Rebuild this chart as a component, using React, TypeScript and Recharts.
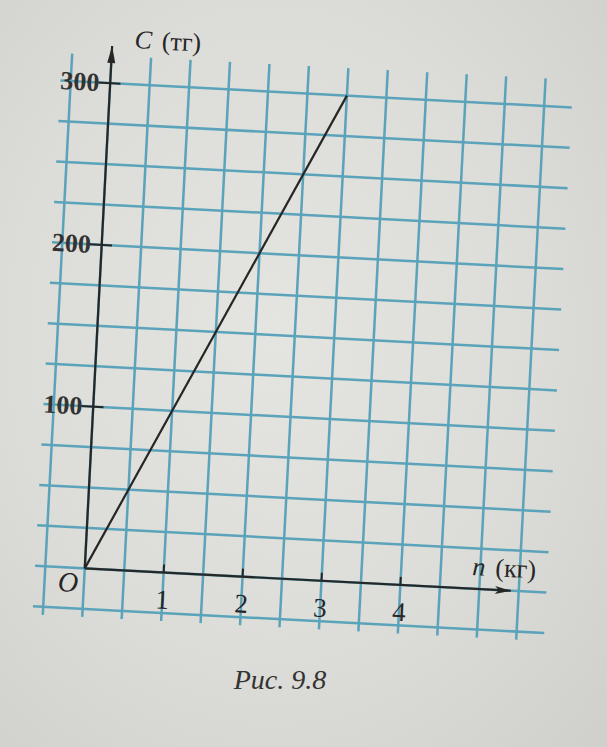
import { LineChart, Line, XAxis, YAxis, ReferenceLine, ReferenceDot } from 'recharts';

// graph of C (тг) against n (кг): straight line through the origin
const nValues = [0, 3];
const cValues = [0, 300];

// squared paper lines, every half kg and every 25 тг
const gridN = [-0.5, 0, 0.5, 1, 1.5, 2, 2.5, 3, 3.5, 4, 4.5, 5, 5.5];
const gridC = [-25, 0, 25, 50, 75, 100, 125, 150, 175, 200, 225, 250, 275, 300];

// labelled ticks
const nTicks = [1, 2, 3, 4];
const cTicks = [100, 200, 300];

const data = nValues.map((n, i) => ({ n, c: cValues[i] }));

const INK = '#262626';
const GRID = '#5aa3ba';
const FONT = '"Liberation Serif", "Times New Roman", serif';

function YAxisArrow(p: any) {
  const { x1, y1, x2, y2 } = p;
  return (
    <g>
      <line x1={x1} y1={y1} x2={x2} y2={y2} stroke={INK} strokeWidth={2.2} />
      <path d={`M${x2},${y2} L${x2 - 4},${y2 + 17} L${x2 + 4},${y2 + 17} Z`} fill={INK} />
    </g>
  );
}

function XAxisArrow(p: any) {
  const { x1, y1, x2, y2 } = p;
  return (
    <g>
      <line x1={x1} y1={y1} x2={x2} y2={y2} stroke={INK} strokeWidth={2.2} />
      <path d={`M${x2},${y2} L${x2 - 16},${y2 - 4} L${x2 - 12},${y2} L${x2 - 16},${y2 + 4} Z`} fill={INK} />
    </g>
  );
}

function CTickMark(p: any) {
  const { x1, y1, x2, y2, text } = p;
  return (
    <g>
      <line x1={x1} y1={y1} x2={x2} y2={y2} stroke={INK} strokeWidth={2} />
      <text
        x={x1 + 1}
        y={y1}
        textAnchor="end"
        dominantBaseline="central"
        fontFamily={FONT}
        fontWeight="bold"
        fontSize={26}
        fill="#333"
      >
        {text}
      </text>
    </g>
  );
}

function NTickMark(p: any) {
  const { x1, y1, x2, y2, text } = p;
  return (
    <g>
      <line x1={x1} y1={y1} x2={x2} y2={y2} stroke={INK} strokeWidth={2} />
      <text x={x1} y={y1 + 36} textAnchor="middle" fontFamily={FONT} fontSize={27} fill={INK}>
        {text}
      </text>
    </g>
  );
}

function AxisName(p: any) {
  const { cx, cy, name, unit } = p;
  return (
    <text x={cx} y={cy} dominantBaseline="central" fontFamily={FONT} fontSize={26} fill={INK}>
      <tspan fontStyle="italic">{name}</tspan>
      <tspan dx={10}>{unit}</tspan>
    </text>
  );
}

function OriginMark(p: any) {
  const { cx, cy } = p;
  return (
    <text x={cx} y={cy} textAnchor="middle" dominantBaseline="central" fontFamily={FONT} fontStyle="italic" fontSize={28} fill={INK}>
      O
    </text>
  );
}

export default function App() {
  return (
    <div
      style={{
        position: 'absolute',
        left: 0,
        top: 0,
        width: 607,
        height: 747,
        overflow: 'hidden',
        background: 'radial-gradient(ellipse at 45% 45%, #e4e4e0 0%, #dcdcd8 55%, #cfcfcb 100%)',
      }}
    >
      {/* the photo is turned a little, so the paper is turned round the origin */}
      <div style={{ position: 'absolute', left: 0, top: 0, transform: 'rotate(3deg)', transformOrigin: '85px 568px' }}>
        <LineChart width={607} height={747} data={data} margin={{ top: 55, right: 60, bottom: 130, left: 35 }}>
          <XAxis dataKey="n" type="number" domain={[-0.63, 5.85]} allowDataOverflow hide />
          <YAxis dataKey="c" type="number" domain={[-30, 317]} allowDataOverflow hide />

          {/* squared paper */}
          {gridN.map((n) => (
            <ReferenceLine key={`gx${n}`} x={n} stroke={GRID} strokeWidth={2.5} />
          ))}
          {gridC.map((c) => (
            <ReferenceLine key={`gy${c}`} y={c} stroke={GRID} strokeWidth={2.5} />
          ))}

          <ReferenceLine
            segment={[{ x: 0, y: 0 }, { x: 0, y: 323 }]}
            ifOverflow="visible"
            shape={(p: any) => <YAxisArrow {...p} />}
          />
          <ReferenceLine
            segment={[{ x: 0, y: 0 }, { x: 5.4, y: 0 }]}
            ifOverflow="visible"
            shape={(p: any) => <XAxisArrow {...p} />}
          />

          {cTicks.map((c) => (
            <ReferenceLine
              key={`c${c}`}
              segment={[{ x: -0.15, y: c }, { x: 0.13, y: c }]}
              ifOverflow="visible"
              shape={(p: any) => <CTickMark {...p} text={String(c)} />}
            />
          ))}
          {nTicks.map((n) => (
            <ReferenceLine
              key={`n${n}`}
              segment={[{ x: n, y: 0 }, { x: n, y: 5 }]}
              ifOverflow="visible"
              shape={(p: any) => <NTickMark {...p} text={String(n)} />}
            />
          ))}

          <ReferenceDot x={0.28} y={328} ifOverflow="visible" shape={(p: any) => <AxisName {...p} name="C" unit="(тг)" />} />
          <ReferenceDot x={4.9} y={14} ifOverflow="visible" shape={(p: any) => <AxisName {...p} name="n" unit="(кг)" />} />
          <ReferenceDot x={-0.2} y={-9} ifOverflow="visible" shape={(p: any) => <OriginMark {...p} />} />

          <Line
            dataKey="c"
            type="linear"
            stroke={INK}
            strokeWidth={2.2}
            dot={false}
            activeDot={false}
            isAnimationActive={false}
          />
        </LineChart>
      </div>

      <div
        style={{
          position: 'absolute',
          left: 180,
          top: 664,
          width: 200,
          textAlign: 'center',
          fontFamily: FONT,
          fontStyle: 'italic',
          fontSize: 28,
          color: '#333',
        }}
      >
        Рис. 9.8
      </div>
    </div>
  );
}
